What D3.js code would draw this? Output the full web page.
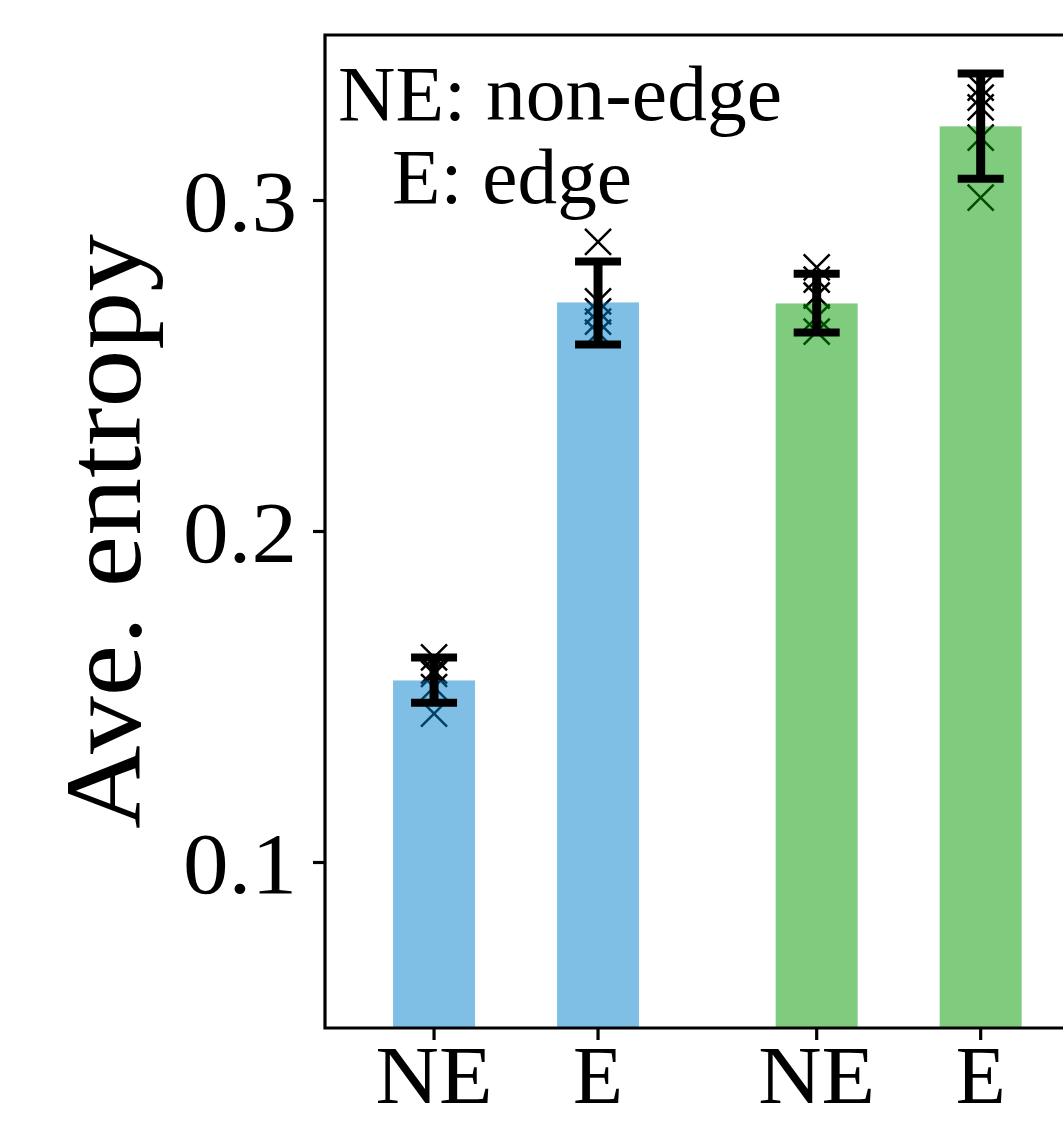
<!DOCTYPE html>
<html>
<head>
<meta charset="utf-8">
<script src="https://cdn.jsdelivr.net/npm/d3@7"></script>
<style>
    html, body { margin: 0; padding: 0; background: #fff; }
    svg { display: block; }
    text { font-family: "Liberation Serif", "DejaVu Serif", serif; fill: #000; }
</style>
</head>
<body>
<svg id="chart"></svg>
<script>
// categories: two groups, each with a non-edge and an edge bar
const groups = [0, 0, 1, 1];
const members = [0, 1, 0, 1];
const tickLabels = ['NE', 'E', 'NE', 'E'];
const barColors = ['rgb(0,127,204)', 'rgb(0,127,204)', 'rgb(0,153,0)', 'rgb(0,153,0)'];

// mean entropy and error bar ends
const means = [0.155, 0.2692, 0.2689, 0.3224];
const errLow = [0.1483, 0.2565, 0.2601, 0.3066];
const errHigh = [0.1619, 0.2816, 0.2779, 0.3384];

// individual runs (x markers)
const runs = [
    [0.162, 0.158, 0.157, 0.153, 0.145],
    [0.2875, 0.2695, 0.2665, 0.2634, 0.2601],
    [0.2798, 0.2761, 0.2713, 0.2647, 0.2604],
    [0.3341, 0.3311, 0.3281, 0.319, 0.3009],
];

const yTicks = [0.1, 0.2, 0.3];
const yLabel = 'Ave. entropy';
const legendLines = ['NE: non-edge', 'E: edge'];

function renderChart() {
    const width = 1063;
    const height = 1122;
    const margin = { left: 325, top: 35, bottom: 94 };
    const groupGap = 1 / 3;

    const svg = d3.select('#chart')
        .attr('width', width)
        .attr('height', height);

    const pos = i => groups[i] * (1 + groupGap) + groups[i] + members[i];

    const x = d3.scaleLinear()
        .domain([-0.665, 4.0])
        .range([margin.left, 1090]);

    const y = d3.scaleLinear()
        .domain([0.05, 0.35])
        .range([height - margin.bottom, margin.top]);

    const barW = x(0.5) - x(0);

    // run markers go underneath the translucent bars
    const mk = 13;
    const markers = svg.append('g');
    runs.forEach((vals, i) => {
        vals.forEach((v) => {
            const cx = x(pos(i));
            const cy = y(v);
            markers.append('path')
                .attr('d', `M${cx - mk},${cy - mk}L${cx + mk},${cy + mk}M${cx - mk},${cy + mk}L${cx + mk},${cy - mk}`)
                .attr('stroke', '#000')
                .attr('stroke-width', 2.5)
                .attr('fill', 'none');
        });
    });

    svg.append('g').selectAll('rect')
        .data(means)
        .enter()
        .append('rect')
        .attr('x', (d, i) => x(pos(i)) - barW / 2)
        .attr('width', barW)
        .attr('y', d => y(d))
        .attr('height', d => y(0.05) - y(d))
        .attr('fill', (d, i) => barColors[i])
        .attr('fill-opacity', 0.5);

    // error bars
    const capW = 23;
    const eb = svg.append('g');
    means.forEach((m, i) => {
        const cx = x(pos(i));
        eb.append('line')
            .attr('x1', cx).attr('x2', cx)
            .attr('y1', y(errLow[i])).attr('y2', y(errHigh[i]))
            .attr('stroke', '#000').attr('stroke-width', 9);
        [errLow[i], errHigh[i]].forEach((v) => {
            eb.append('line')
                .attr('x1', cx - capW).attr('x2', cx + capW)
                .attr('y1', y(v)).attr('y2', y(v))
                .attr('stroke', '#000').attr('stroke-width', 8);
        });
    });

    // spines (right edge runs off the picture)
    svg.append('path')
        .attr('d', `M${width + 5},${y(0.35)}H${x(-0.665)}V${y(0.05)}H${width + 5}`)
        .attr('stroke', '#000')
        .attr('stroke-width', 3.2)
        .attr('stroke-linecap', 'square')
        .attr('fill', 'none');

    // y ticks
    const yt = svg.append('g');
    yTicks.forEach((t) => {
        yt.append('line')
            .attr('x1', margin.left - 12).attr('x2', margin.left)
            .attr('y1', y(t)).attr('y2', y(t))
            .attr('stroke', '#000').attr('stroke-width', 3.2);
        yt.append('text')
            .attr('x', 297)
            .attr('y', y(t))
            .attr('dy', '0.36em')
            .attr('text-anchor', 'end')
            .attr('font-size', 86)
            .attr('textLength', 114)
            .attr('lengthAdjust', 'spacingAndGlyphs')
            .text(d3.format('.1f')(t));
    });

    // x ticks
    const xt = svg.append('g');
    tickLabels.forEach((lab, i) => {
        const cx = x(pos(i));
        xt.append('line')
            .attr('x1', cx).attr('x2', cx)
            .attr('y1', y(0.05)).attr('y2', y(0.05) + 12)
            .attr('stroke', '#000').attr('stroke-width', 3.2);
        xt.append('text')
            .attr('x', cx)
            .attr('y', 1103)
            .attr('text-anchor', 'middle')
            .attr('font-size', 82)
            .attr('textLength', lab.length > 1 ? 117 : 50)
            .attr('lengthAdjust', 'spacingAndGlyphs')
            .text(lab);
    });

    // y label
    svg.append('text')
        .attr('transform', `translate(140,${(y(0.05) + y(0.35)) / 2})rotate(-90)`)
        .attr('text-anchor', 'middle')
        .attr('font-size', 108)
        .attr('textLength', 595)
        .attr('lengthAdjust', 'spacingAndGlyphs')
        .text(yLabel);

    // legend note
    const note = svg.append('g');
    note.append('text')
        .attr('x', 338).attr('y', 120)
        .attr('font-size', 78)
        .attr('textLength', 444)
        .attr('lengthAdjust', 'spacingAndGlyphs')
        .text(legendLines[0]);
    note.append('text')
        .attr('x', 392).attr('y', 203)
        .attr('font-size', 78)
        .attr('textLength', 240)
        .attr('lengthAdjust', 'spacingAndGlyphs')
        .text(legendLines[1]);
}

renderChart();
</script>
</body>
</html>
